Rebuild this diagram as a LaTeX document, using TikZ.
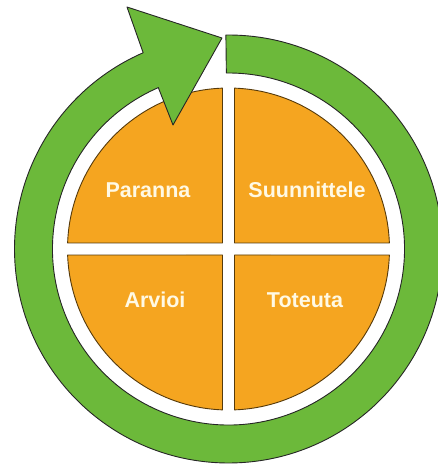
\documentclass[tikz,border=0pt]{standalone}
\usepackage{fontspec}
\setsansfont{Liberation Sans}
\usetikzlibrary{calc}
\definecolor{cycleorange}{RGB}{245,165,32}
\definecolor{cyclegreen}{RGB}{108,185,58}
\definecolor{cycletext}{RGB}{255,249,228}

\begin{document}
\begin{tikzpicture}[x=1pt,y=1pt,line join=round,
 quarter/.style={fill=cycleorange,draw=cycleorange!35!black,line width=0.9pt},
 phase/.style={font=\sffamily\bfseries\fontsize{21.5}{24}\selectfont,text=cycletext}]
\useasboundingbox (0,0) rectangle (438,464);
\coordinate (c) at (228.5,215);
% four quarters
\foreach \a in {0,90,180,270}{
 \begin{scope}[shift={(c)},rotate=\a]
 \draw[quarter] (6,6) -- (87.86:161) arc[start angle=87.86,end angle=2.14,radius=161] -- cycle;
 \end{scope}
}
% green ring with the arrow head
\draw[fill=cyclegreen,draw=black!85,line width=0.9pt]
 ($(c)+(90.7:214)$) arc[start angle=90.7,end angle=-246.5,radius=214]
 -- (127,457) -- (222,426) -- (173,339)
 -- ($(c)+(113.5:176)$) arc[start angle=-246.5,end angle=90.7,radius=176] -- cycle;
\node[phase] (paranna) at (148,274) {Paranna};
\node[phase] (suunnittele) at (307,274) {Suunnittele};
\node[phase] (arvioi) at (155,164) {Arvioi};
\node[phase] (toteuta) at (305,164) {Toteuta};
\end{tikzpicture}
\end{document}
